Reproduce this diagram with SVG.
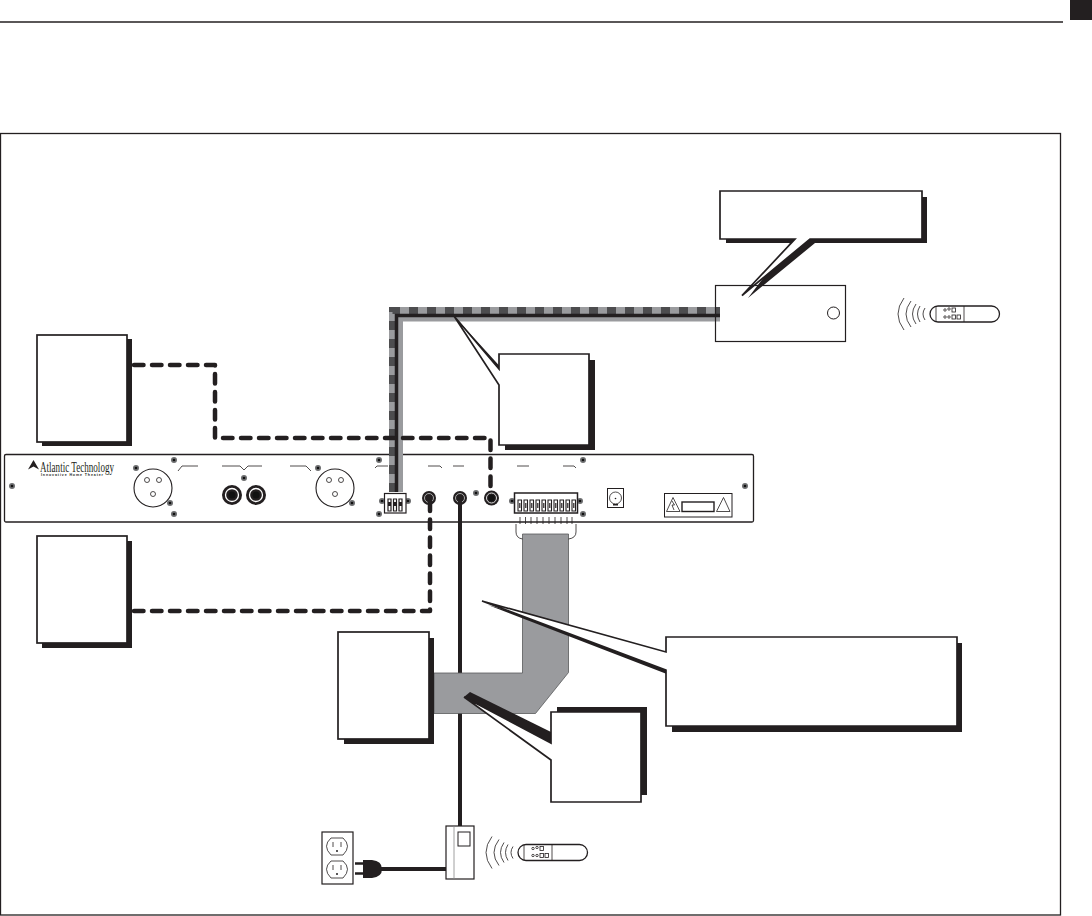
<svg xmlns="http://www.w3.org/2000/svg" width="1092" height="916" viewBox="0 0 1092 916">
<style>
.ln{fill:none;stroke:#231f20;stroke-width:1.3}
.bx{fill:#fff;stroke:#231f20;stroke-width:1.7}
.sh{fill:#231f20;stroke:none}
.dash{fill:none;stroke:#231f20;stroke-width:4.500;stroke-dasharray:9.500 8.500;stroke-linecap:round;stroke-linejoin:round}
.th{fill:none;stroke:#231f20;stroke-width:.8}
.f{fill:#231f20}
.s{fill:#231f20}
</style>
<defs>
<g id="screw"><circle r="3" fill="#6d6e70"/><circle r="1.300" fill="#111"/></g>
<g id="remote">
<rect x="930" y="306" width="69.500" height="16" rx="8" ry="8" class="ln"/>
<path d="M936 306V322M964 306V322" class="th"/>
<path d="M904 298Q892 314 904 330M911 301Q901 314 911 327M916 304Q909 314 916 324M920 306Q915 314 920 322M925 308Q921 314 925 320" class="th"/>
<circle cx="945" cy="310" r="1.200" class="th"/><circle cx="949" cy="309" r="1.200" class="th"/><circle cx="945" cy="317" r="1.200" class="th"/><circle cx="949" cy="317" r="1.200" class="th"/>
<rect x="952" y="308" width="3.500" height="4" class="th"/><rect x="952" y="315" width="3.500" height="4" class="th"/><rect x="957" y="315" width="3.500" height="4" class="th"/>
</g>
</defs>
<rect width="1092" height="916" fill="#fff"/>
<path d="M0 22H1063" stroke="#231f20" stroke-width="1.300"/>
<rect x="1070" y="0" width="22" height="20" fill="#231f20"/>
<rect x="0.500" y="133.500" width="1060" height="781.500" fill="none" stroke="#231f20" stroke-width="1.300"/>

<g id="rear-panel">
<rect x="4.500" y="454.500" width="749" height="67.500" rx="1.500" fill="#fff" stroke="#231f20" stroke-width="1.300"/>
<path d="M28 469.500L33.500 460L39 469.500L33.500 466.500Z" fill="#231f20"/>
<text x="40" y="471.500" font-family="'Liberation Serif',serif" font-size="15.500" textLength="74" lengthAdjust="spacingAndGlyphs" fill="#231f20">Atlantic Technology</text>
<text x="41" y="476" font-family="'Liberation Sans',sans-serif" font-size="3.600" font-weight="bold" textLength="62" fill="#231f20">Innovative Home Theater</text>
<g id="xlr-left"><circle cx="153" cy="488" r="19" fill="#fff" stroke="#231f20" stroke-width="1.100"/><circle cx="147" cy="480" r="2.500" class="th"/><circle cx="159" cy="480" r="2.500" class="th"/><circle cx="153" cy="494" r="2.500" class="th"/></g>
<g id="xlr-right"><circle cx="335" cy="488" r="19" fill="#fff" stroke="#231f20" stroke-width="1.100"/><circle cx="329" cy="480" r="2.500" class="th"/><circle cx="341" cy="480" r="2.500" class="th"/><circle cx="335" cy="494" r="2.500" class="th"/></g>
<g id="rca"><circle cx="232" cy="495" r="10" class="s"/><circle cx="232" cy="495" r="6.500" fill="none" stroke="#fff" stroke-width="1.300"/><circle cx="232" cy="495" r="3.500" fill="#111"/><circle cx="256" cy="495" r="10" class="s"/><circle cx="256" cy="495" r="6.500" fill="none" stroke="#fff" stroke-width="1.300"/><circle cx="256" cy="495" r="3.500" fill="#111"/></g>
<g id="labels-lines" fill="none" stroke="#231f20" stroke-width=".8"><path d="M178 471L182 466H198M222 466H240L244 470L248 466H262M290 466H306L311 471M375 468L377 466H388M428 466H440L442 468M453 466H464M517 466H529M563 466H574L576 468"/></g>
<use href="#screw" x="12" y="486"/><use href="#screw" x="174" y="460"/><use href="#screw" x="136" y="468"/><use href="#screw" x="170" y="503"/><use href="#screw" x="174" y="514"/><use href="#screw" x="244" y="478"/><use href="#screw" x="318" y="468"/><use href="#screw" x="352" y="503"/><use href="#screw" x="379" y="460"/><use href="#screw" x="379" y="514"/><use href="#screw" x="382" y="501"/><use href="#screw" x="408" y="501"/><use href="#screw" x="476" y="493"/><use href="#screw" x="583" y="460"/><use href="#screw" x="512" y="501"/><use href="#screw" x="580" y="501"/><use href="#screw" x="583" y="514"/><use href="#screw" x="745" y="486"/>
<g id="jacks"><circle cx="429" cy="498" r="7" class="s"/><circle cx="429" cy="498" r="4.500" fill="none" stroke="#aaa" stroke-width="1"/><circle cx="460" cy="498" r="7" class="s"/><circle cx="460" cy="498" r="4.500" fill="none" stroke="#aaa" stroke-width="1"/><circle cx="491.500" cy="498" r="7.500" class="s"/><circle cx="491.500" cy="498" r="5" fill="none" stroke="#ddd" stroke-width="1"/><circle cx="491.500" cy="498" r="3.200" fill="#111"/></g>
<g id="dc-jack"><rect x="607.500" y="488.500" width="16" height="19" fill="#fff" stroke="#231f20"/><circle cx="615.500" cy="498" r="6" class="th"/><circle cx="615.500" cy="498.500" r=".8" class="f"/><rect x="613" y="504" width="5" height="1.500" class="f"/></g>
<g id="warning-label"><rect x="664.500" y="493.500" width="67.500" height="23.500" fill="#fff" stroke="#231f20"/><path d="M666.500 511.500L673 497.500L680 511.500Z" class="th"/><path d="M672 501L674.500 505L672 505L674 510" class="th"/><path d="M716.500 511.500L723.500 497.500L730 511.500Z" class="th"/><rect x="682" y="502" width="32" height="9.500" fill="#fff" stroke="#231f20" stroke-width="1.400"/></g>
</g>

<g id="connectors">
<path id="power-cable" d="M460 498V826" stroke="#231f20" stroke-width="4" fill="none"/>
<path id="ribbon" d="M522.500 534H568.500V672.500L535.500 713.500H434V673H522.500Z" fill="#9a9b9e" stroke="#58595b" stroke-width=".8"/>
<path id="bus-grey" d="M400.500 492V319H720" fill="none" stroke="#9a9b9e" stroke-width="5"/>
<path id="bus-base" d="M392.500 492V310.500H720" fill="none" stroke="#9a9b9e" stroke-width="7"/>
<path id="bus-dash" d="M392.500 492V310.500H720" fill="none" stroke="#4d4d4f" stroke-width="7" stroke-dasharray="9 9"/>
<path id="bus-black" d="M396.500 492V315.500H720" fill="none" stroke="#231f20" stroke-width="3.500"/>
<path id="dash-top" class="dash" d="M134 365H215V438H490.500V488"/>
<path id="dash-bottom" class="dash" d="M134 611H430V498"/>
<path id="cord" d="M380 869H446" stroke="#231f20" stroke-width="4" fill="none"/>
<path id="ribbon-bracket" d="M520 517V524M525.500 517V524M531 517V524M537 517V524M543 517V524M549 517V524M555 517V524M561 517V524M567 517V524M572 517V524M516 524V532Q516 538 522.500 539M576 524V532Q576 538 568.500 539" class="th"/>
</g>

<g id="terminal-small"><rect x="384.500" y="493.500" width="21.500" height="19.500" fill="#fff" stroke="#231f20" stroke-width="1.200"/><path d="M388 499h3v12h-3zM393.500 499h3v12h-3zM399 499h3v12h-3z" fill="#fff" stroke="#231f20" stroke-width="1.200"/><path d="M388 502h3v4h-3zM393.500 502h3v4h-3zM399 502h3v4h-3z" class="f"/></g>
<g id="terminal-large"><rect x="514.500" y="493" width="63" height="20" fill="#fff" stroke="#231f20" stroke-width="1.500"/><path d="M518 500h3.500v11h-3.500zM524 500h3.500v11h-3.500zM530 500h3.500v11h-3.500zM536 500h3.500v11h-3.500zM542 500h3.500v11h-3.500zM548 500h3.500v11h-3.500zM554 500h3.500v11h-3.500zM560 500h3.500v11h-3.500zM566 500h3.500v11h-3.500zM572 500h3.500v11h-3.500z" fill="#fff" stroke="#231f20" stroke-width="1.100"/><path d="M519.800 503v5M525.800 503v5M531.800 503v5M537.800 503v5M543.800 503v5M549.800 503v5M555.800 503v5M561.800 503v5M567.800 503v5M573.800 503v5" stroke="#231f20" stroke-width="1.200"/></g>

<g id="box-a"><rect x="42" y="339" width="90" height="107" class="sh"/><rect x="37" y="335" width="90" height="107" class="bx"/></g>
<g id="box-b"><rect x="42" y="541" width="90" height="107" class="sh"/><rect x="37" y="536" width="90" height="107" class="bx"/></g>
<g id="box-c"><path d="M344 638H434V744H344Z" class="sh"/><rect x="338" y="632" width="91" height="107" class="bx"/></g>

<g id="callout-top">
<path d="M726 197H927V243H815L748 298L790 243H726Z" class="sh"/>
<path d="M720 191H922V239H810L742 295.500L795 239H720Z" class="bx"/>
</g>
<g id="controller"><rect x="715.500" y="285.500" width="130" height="56" fill="none" stroke="#231f20" stroke-width="1.200"/><circle cx="833.500" cy="313" r="6" fill="#fff" stroke="#231f20" stroke-width="1"/></g>
<use id="remote-top" href="#remote"/>

<g id="callout-mid">
<path d="M505 360H595V450H505V388L454 316L505 372Z" class="sh"/>
<path d="M499 354H589V445H499V385L454 316L499 369Z" class="bx"/>
</g>
<g id="callout-right">
<path d="M672 643H962V732H672V676L488 605L672 658Z" class="sh"/>
<path d="M666 637H957V726H666V670L482 601L666 652Z" class="bx"/>
</g>
<g id="callout-low">
<path d="M557 707H647V795H557Z" class="sh"/>
<path d="M551 732V744L464 697L470 692Z" class="sh"/>
<path d="M551 712H641V802H551V760L464 697L551 743Z" class="bx"/>
</g>

<g id="outlet"><rect x="322" y="832" width="31" height="52" fill="#fff" stroke="#231f20" stroke-width="1.200"/><path d="M331 838H343Q352 846 343 855H331Q322 846 331 838ZM331 861H343Q352 869 343 878H331Q322 869 331 861Z" class="th"/><path d="M333 842v5M341 842v5M333 865v5M341 865v5" stroke="#231f20" stroke-width=".8"/><circle cx="337" cy="851" r="1" class="f"/><circle cx="337" cy="874" r="1" class="f"/></g>
<g id="plug"><path d="M363 860H372Q382 861 382 869Q382 877 372 878H363Z" class="f"/><path d="M355 863.500H363M355 873.500H363" stroke="#231f20" stroke-width="2.500"/></g>
<g id="power-box"><rect x="446" y="826" width="28" height="53" fill="#fff" stroke="#231f20" stroke-width="1.200"/><path d="M454 826V879" stroke="#888" stroke-width=".8"/><rect x="458" y="832" width="12" height="14" fill="#fff" stroke="#231f20"/></g>
<use id="remote-bottom" href="#remote" x="-412" y="538.500"/>
</svg>
